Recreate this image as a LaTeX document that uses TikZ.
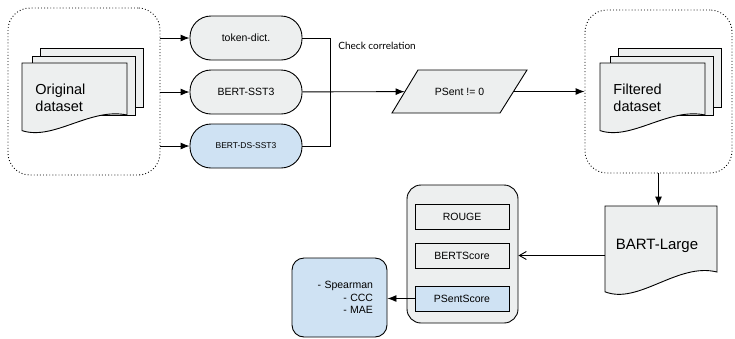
\documentclass[tikz,border=0pt]{standalone}
\usepackage{fontspec}
\setmainfont{Liberation Sans}
\newfontfamily\latofont{Lato}
\usepackage{tikz}
\usetikzlibrary{arrows.meta}

\definecolor{boxgray}{HTML}{EDEFEF}
\definecolor{boxblue}{HTML}{CFE2F3}

\tikzset{
  pill/.style={draw,fill=boxgray,rounded corners=21pt,minimum width=112pt,minimum height=44pt,font=\fontsize{10.5}{12}\selectfont},
  grp/.style={draw,dash pattern=on 0.9pt off 2.2pt,rounded corners=22pt},
  metric/.style={draw,fill=boxgray,minimum width=94pt,minimum height=25pt,font=\fontsize{10.5}{12}\selectfont},
  dstext/.style={anchor=west,align=left,inner sep=0pt,font=\fontsize{14.5}{17.5}\selectfont},
}

% one page of a document symbol: left, top, right, bottom (right side)
\newcommand{\docpage}[4]{%
  \draw[fill=boxgray] (#1,#2) -- (#3,#2) -- (#3,#4)
    .. controls ({#3-0.35*(#3-#1)},{#4-0.15*(#4-#2)}) and ({#1+0.3*(#3-#1)},{#4+0.5*(#4-#2)}) .. (#1,{#4+0.3*(#4-#2)}) -- cycle;}

\begin{document}
\begin{tikzpicture}[x=1pt,y=-1pt,line width=0.9pt,>={Latex[length=9pt,width=7pt]}]
  \useasboundingbox (0,0) rectangle (735,338);

  % datasets
  \draw (84,91.5) node[grp,minimum width=152pt,minimum height=167pt] (orig) {};
  \draw[fill=boxgray] (40,48) rectangle (143,107);
  \draw[fill=boxgray] (32,56) rectangle (135,115);
  \docpage{22}{63}{127}{115}
  \draw (35,98) node[dstext] (origtxt) {Original\\dataset};

  \draw (658.5,91.5) node[grp,minimum width=147pt,minimum height=163pt] (filt) {};
  \draw[fill=boxgray] (618,48) rectangle (721,107);
  \draw[fill=boxgray] (610,56) rectangle (713,115);
  \docpage{600}{63}{705}{115}
  \draw (613,98) node[dstext] (filttxt) {Filtered\\dataset};

  % models
  \draw (246,38) node[pill] (tok) {token-dict.};
  \draw (246,92) node[pill] (sst) {BERT-SST3};
  \draw (246,146) node[pill,fill=boxblue,font=\fontsize{8.5}{10}\selectfont] (dssst) {BERT-DS-SST3};
  \coordinate (bus) at (330,92);

  \draw[fill=boxgray] (392,113) -- (418,70) -- (527,70) -- (500,113) -- cycle;
  \draw (459.5,91.5) node[minimum width=109pt,minimum height=43pt,inner sep=0pt,font=\fontsize{10.5}{12}\selectfont] (psent) {PSent != 0};
  \draw (338,46) node[anchor=west,inner sep=0pt,font=\latofont\fontsize{10}{12}\selectfont] (chk) {Check correlation};

  \draw[->] (orig.east |- tok) -- (tok);
  \draw[->] (orig.east |- sst) -- (sst);
  \draw[->] (orig.east |- dssst) -- (dssst);
  \draw (tok) -- (tok -| bus) -- (dssst -| bus) -- (dssst);
  \draw[->] (sst) -- (psent);
  \draw[->] (psent) -- (filt.west |- psent);

  % summarisation and scoring
  \docpage{605}{206}{717}{272}
  \draw (661,239) node[minimum width=112pt,minimum height=66pt,inner sep=0pt,
     label={[xshift=-4pt,yshift=-7pt,font=\fontsize{15}{18}\selectfont]center:BART-Large}] (bart) {};

  \draw (462.5,254) node[draw,fill=boxgray,rounded corners=14pt,minimum width=111pt,minimum height=138pt] (scores) {};
  \draw (462,216.5) node[metric] (rouge) {ROUGE};
  \draw (462,255.5) node[metric] (bert) {BERTScore};
  \draw (462,298.5) node[metric,fill=boxblue] (pss) {PSentScore};

  \draw (339.5,297.5) node[draw,fill=boxblue,rounded corners=12pt,minimum height=79pt,text width=67pt,inner xsep=14pt,align=right,font=\fontsize{10.5}{12.3}\selectfont] (stats) {- Spearman\\- CCC\\- MAE};

  \draw[->] (filt.south) -- (filt.south |- bart.north);
  \draw[-{Straight Barb[length=7pt,width=8pt]}] (bart.west |- bert) -- (scores.east |- bert);
  \draw[->] (pss.west) -- (stats.east |- pss.west);
\end{tikzpicture}
\end{document}
